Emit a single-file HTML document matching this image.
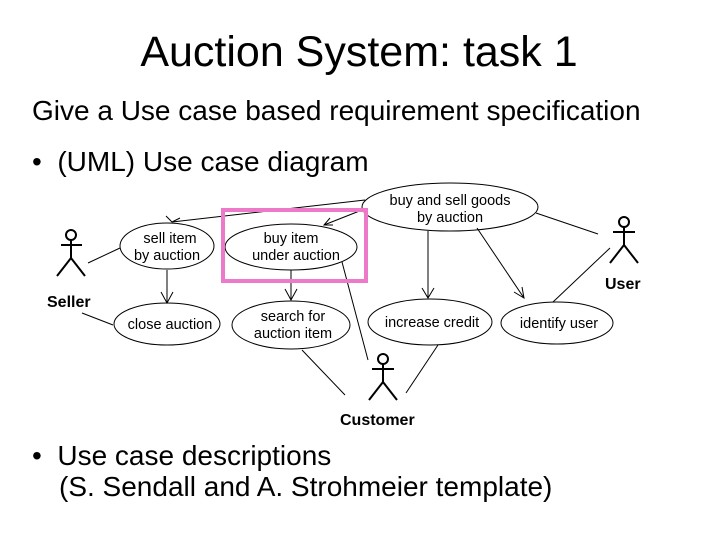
<!DOCTYPE html>
<html><head><style>
body{margin:0;width:720px;height:540px;background:#fff;overflow:hidden;font-family:"Liberation Sans",sans-serif;position:relative}
.t{position:absolute;white-space:nowrap;color:#000}
</style></head><body>
<div class="t" style="left:0;width:718px;text-align:center;top:28px;font-size:43px">Auction System: task 1</div>
<div class="t" style="left:32px;top:95px;font-size:28px">Give a Use case based requirement specification</div>
<div class="t" style="left:32px;top:146px;font-size:28px">•&nbsp; (UML) Use case diagram</div>
<div class="t" style="left:32px;top:440px;font-size:28px;line-height:31px">•&nbsp; Use case descriptions</div>
<div class="t" style="left:59px;top:471px;font-size:28px;line-height:31px">(S. Sendall and A. Strohmeier template)</div>
<svg width="720" height="540" style="position:absolute;left:0;top:0" font-family="Liberation Sans, sans-serif" font-size="14.5">
<g fill="none" stroke="#000" stroke-width="1">
<ellipse cx="450" cy="207" rx="88" ry="24"/>
<ellipse cx="167" cy="246" rx="47" ry="23"/>
<ellipse cx="291" cy="247" rx="66" ry="23"/>
<ellipse cx="167" cy="324" rx="53" ry="21"/>
<ellipse cx="291" cy="325" rx="59" ry="24"/>
<ellipse cx="430" cy="322" rx="62" ry="23"/>
<ellipse cx="557" cy="323" rx="56" ry="21"/>
<path d="M365 200 L172 222 M166 216 L172 222 L180 218"/>
<path d="M362 210 L324 225 M330 218 L324 225 L333 225"/>
<path d="M428 231 L428 298 M422 288 L428 298 L434 288"/>
<path d="M477 228 L524 298 M514 292 L524 298 L522 287"/>
<path d="M536 213 L598 234 M610 248 L553 302"/>
<path d="M88 263 L120 248 M82 313 L113 325"/>
<path d="M167 270 L167 303 M161 292 L167 303 L173 292"/>
<path d="M291 270 L291 300 M285 289 L291 300 L297 289"/>
<path d="M342 262 L368 360 M302 350 L345 395 M438 345 L406 393"/>
</g>
<g fill="none" stroke="#000" stroke-width="2">
<circle cx="71" cy="235" r="5"/><path d="M71 240 V258 M61 245 H82 M71 258 L57 276 M71 258 L85 276"/>
<circle cx="624" cy="222" r="5"/><path d="M624 227 V245 M613 232 H635 M624 245 L610 263 M624 245 L638 263"/>
<circle cx="383" cy="359" r="5"/><path d="M383 364 V382 M372 369 H394 M383 382 L369 400 M383 382 L397 400"/>
</g>
<g font-size="16" font-weight="bold"><text x="47" y="307">Seller</text><text x="605" y="289">User</text><text x="340" y="425">Customer</text></g>
<g text-anchor="middle">
<text x="450" y="205">buy and sell goods</text><text x="450" y="222">by auction</text>
<text x="170" y="243">sell item</text><text x="167" y="260">by auction</text>
<text x="291" y="243">buy item</text><text x="296" y="260">under auction</text>
<text x="170" y="329">close auction</text>
<text x="293" y="321">search for</text><text x="293" y="338">auction item</text>
<text x="432" y="327">increase credit</text>
<text x="559" y="328">identify user</text>
</g>
<rect x="223" y="210" width="143" height="71" fill="none" stroke="#ec7ac8" stroke-width="4"/>
</svg>
</body></html>
